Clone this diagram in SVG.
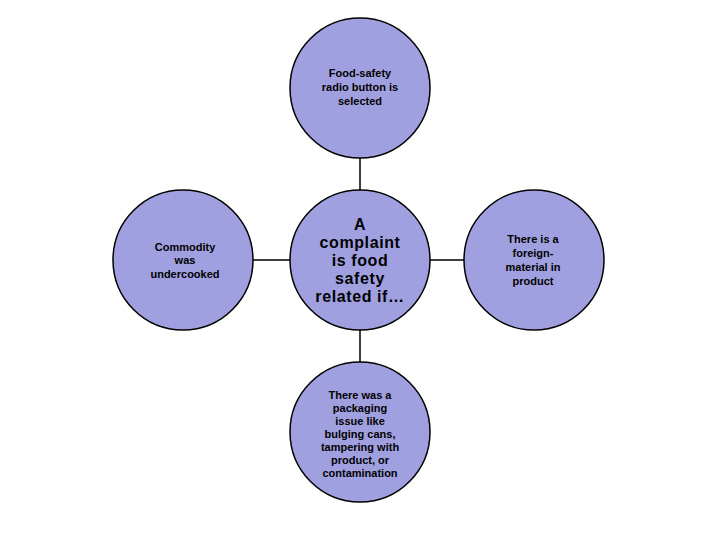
<svg xmlns="http://www.w3.org/2000/svg" width="720" height="540" viewBox="0 0 720 540">
<style>
.n{fill:#a0a0e0;stroke:#000;stroke-width:1.5}
.t{font-family:"Liberation Sans",Arial,sans-serif;font-weight:bold;font-size:11px;text-anchor:middle;fill:#000}
.c{font-size:16px;letter-spacing:0.6px}
.l{stroke:#000;stroke-width:1.5}
</style>
<rect width="720" height="540" fill="#fff"/>
<g id="connectors">
<line class="l" x1="360" y1="158" x2="360" y2="190"/>
<line class="l" x1="253" y1="260" x2="290" y2="260"/>
<line class="l" x1="430" y1="260" x2="464" y2="260"/>
<line class="l" x1="360" y1="330" x2="360" y2="362"/>
</g>
<g id="center"><circle class="n" cx="360" cy="260" r="70"/>
<text class="t c" x="360" y="230">A</text><text class="t c" x="360" y="248">complaint</text><text class="t c" x="360" y="266">is food</text><text class="t c" x="360" y="284">safety</text><text class="t c" x="360" y="302">related if…</text></g>
<g id="top"><circle class="n" cx="360" cy="88" r="70"/>
<text class="t" x="360" y="77">Food-safety</text><text class="t" x="360" y="91">radio button is</text><text class="t" x="360" y="105">selected</text></g>
<g id="left"><circle class="n" cx="183" cy="260" r="70"/>
<text class="t" x="185" y="251">Commodity</text><text class="t" x="185" y="264">was</text><text class="t" x="185" y="278">undercooked</text></g>
<g id="right"><circle class="n" cx="534" cy="260" r="70"/>
<text class="t" x="533" y="243">There is a</text><text class="t" x="533" y="257">foreign-</text><text class="t" x="533" y="271">material in</text><text class="t" x="533" y="285">product</text></g>
<g id="bottom"><circle class="n" cx="360" cy="432" r="70"/>
<text class="t" x="360" y="399">There was a</text><text class="t" x="360" y="412">packaging</text><text class="t" x="360" y="425">issue like</text><text class="t" x="360" y="438">bulging cans,</text><text class="t" x="360" y="451">tampering with</text><text class="t" x="360" y="464">product, or</text><text class="t" x="360" y="477">contamination</text></g>
</svg>
